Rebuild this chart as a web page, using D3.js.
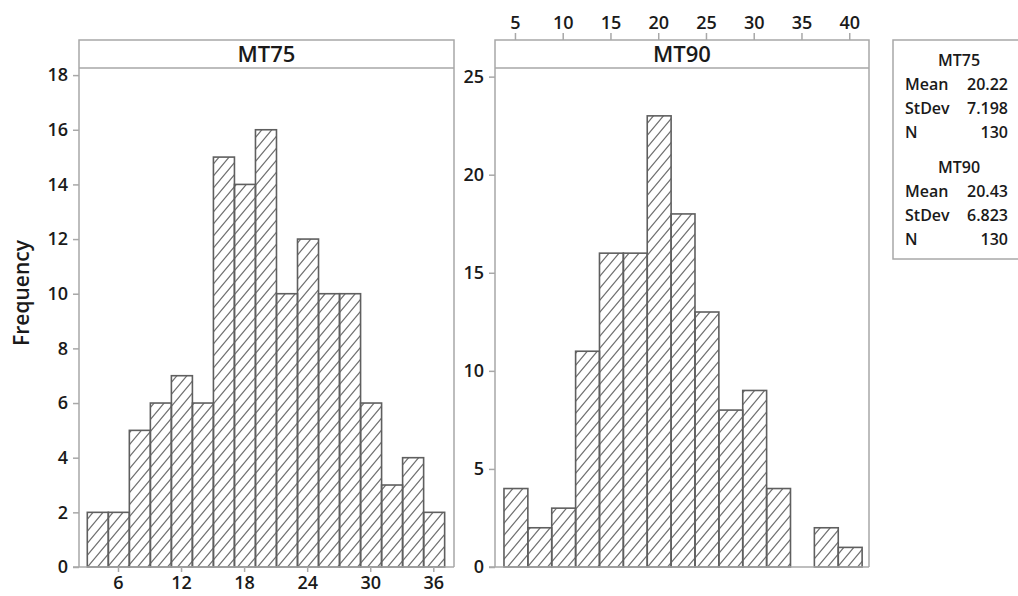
<!DOCTYPE html>
<html>
<head>
<meta charset="utf-8">
<script src="https://cdn.jsdelivr.net/npm/d3@7"></script>
<style>
  body { margin: 0; background: #fff; }
  text { font-family: "Open Sans", sans-serif; font-weight: 600; fill: #1a1a1a; }
</style>
</head>
<body>
<div id="chart"></div>
<script>
// histogram counts per bin
const mt75Counts = [2, 2, 5, 6, 7, 6, 15, 14, 16, 10, 12, 10, 10, 6, 3, 4, 2];
const mt90Counts = [4, 2, 3, 11, 16, 16, 23, 18, 13, 8, 9, 4, 0, 2, 1];
// bin layout (first edge, width)
const mt75BinStart = 3.08, mt75BinWidth = 2;
const mt90BinStart = 3.85, mt90BinWidth = 2.5;
// tick labels
const mt75XTicks = [6, 12, 18, 24, 30, 36];
const mt90XTicks = [5, 10, 15, 20, 25, 30, 35, 40];
const mt75YTicks = [0, 2, 4, 6, 8, 10, 12, 14, 16, 18];
const mt90YTicks = [0, 5, 10, 15, 20, 25];
// legend stats
const statLabels = ["Mean", "StDev", "N"];
const mt75Stats = ["20.22", "7.198", "130"];
const mt90Stats = ["20.43", "6.823", "130"];

const W = 1018, H = 596;
const frameTop = 40, headerBottom = 68, baseY = 567;
const frameColor = "#a8a8a8", barColor = "#5f5f5f";

const svg = d3.select("#chart").append("svg")
    .attr("width", W)
    .attr("height", H);

// hatch fill for the bars
svg.append("defs").append("pattern")
    .attr("id", "hatch")
    .attr("patternUnits", "userSpaceOnUse")
    .attr("width", 10)
    .attr("height", 12)
  .append("path")
    .attr("d", "M-1,1.2 l2,-2.4 M0,12 l10,-12 M9,13.2 l2,-2.4")
    .attr("stroke", "#707070")
    .attr("stroke-width", 1.2);

const panels = [
    { name: "MT75", counts: mt75Counts, start: mt75BinStart, bw: mt75BinWidth,
      left: 79, right: 454, xDomain: [2.29, 37.97], yDomain: [0, 18.26],
      xTicks: mt75XTicks, yTicks: mt75YTicks, xSide: "bottom" },
    { name: "MT90", counts: mt90Counts, start: mt90BinStart, bw: mt90BinWidth,
      left: 495, right: 869, xDomain: [2.91, 42.07], yDomain: [0, 25.44],
      xTicks: mt90XTicks, yTicks: mt90YTicks, xSide: "top" }
];

panels.forEach(p => {
    const x = d3.scaleLinear().domain(p.xDomain).range([p.left, p.right]);
    const y = d3.scaleLinear().domain(p.yDomain).range([baseY, headerBottom]);
    const g = svg.append("g");

    // bars
    g.selectAll("rect.bar")
        .data(p.counts)
        .join("rect")
        .attr("class", "bar")
        .attr("x", (d, i) => x(p.start + i * p.bw))
        .attr("width", x(p.start + p.bw) - x(p.start))
        .attr("y", d => y(d))
        .attr("height", d => baseY - y(d))
        .attr("fill", "url(#hatch)")
        .attr("stroke", barColor)
        .attr("stroke-width", 1.6);

    // frame + header strip
    g.append("path")
        .attr("d", `M${p.left},${baseY}V${frameTop}H${p.right}V${baseY}M${p.left},${headerBottom}H${p.right}`)
        .attr("fill", "none")
        .attr("stroke", frameColor)
        .attr("stroke-width", 1.5);
    g.append("line")
        .attr("x1", p.left - 6).attr("x2", p.right)
        .attr("y1", baseY).attr("y2", baseY)
        .attr("stroke", frameColor)
        .attr("stroke-width", 1.5);
    g.append("text")
        .attr("x", (p.left + p.right) / 2)
        .attr("y", 62)
        .attr("text-anchor", "middle")
        .style("font-size", "22px")
        .text(p.name);

    // y axis
    const yAxis = g.append("g")
        .attr("transform", `translate(${p.left},0)`)
        .call(d3.axisLeft(y).tickValues(p.yTicks).tickSize(6).tickPadding(5).tickSizeOuter(0));
    yAxis.select(".domain").remove();
    yAxis.selectAll(".tick line").attr("stroke", frameColor).attr("stroke-width", 1.5);
    yAxis.selectAll(".tick text").style("font-size", "18px").attr("fill", "#1a1a1a");

    // x axis
    const xAxis = g.append("g");
    if (p.xSide === "bottom") {
        xAxis.attr("transform", `translate(0,${baseY})`)
            .call(d3.axisBottom(x).tickValues(p.xTicks).tickSize(5).tickPadding(4).tickSizeOuter(0));
    } else {
        xAxis.attr("transform", `translate(0,${frameTop})`)
            .call(d3.axisTop(x).tickValues(p.xTicks).tickSize(7).tickPadding(4).tickSizeOuter(0));
    }
    xAxis.select(".domain").remove();
    xAxis.selectAll(".tick line").attr("stroke", frameColor).attr("stroke-width", 1.5);
    xAxis.selectAll(".tick text").style("font-size", "18px").attr("fill", "#1a1a1a");
});

// y title
svg.append("text")
    .attr("transform", "translate(29,293) rotate(-90)")
    .attr("text-anchor", "middle")
    .style("font-size", "21px")
    .text("Frequency");

// legend box
const lg = svg.append("g");
lg.append("rect")
    .attr("x", 893).attr("y", 40)
    .attr("width", 140).attr("height", 219)
    .attr("fill", "#fff")
    .attr("stroke", frameColor)
    .attr("stroke-width", 1.5);

const groups = [
    { name: "MT75", stats: mt75Stats, top: 66 },
    { name: "MT90", stats: mt90Stats, top: 173 }
];
groups.forEach(gr => {
    lg.append("text")
        .attr("x", 959).attr("y", gr.top)
        .attr("text-anchor", "middle")
        .style("font-size", "16px")
        .text(gr.name);
    statLabels.forEach((lab, i) => {
        const yy = gr.top + 24 * (i + 1);
        lg.append("text").attr("x", 905).attr("y", yy).style("font-size", "16px").text(lab);
        lg.append("text").attr("x", 1008).attr("y", yy).attr("text-anchor", "end")
            .style("font-size", "16px").text(gr.stats[i]);
    });
});
</script>
</body>
</html>
